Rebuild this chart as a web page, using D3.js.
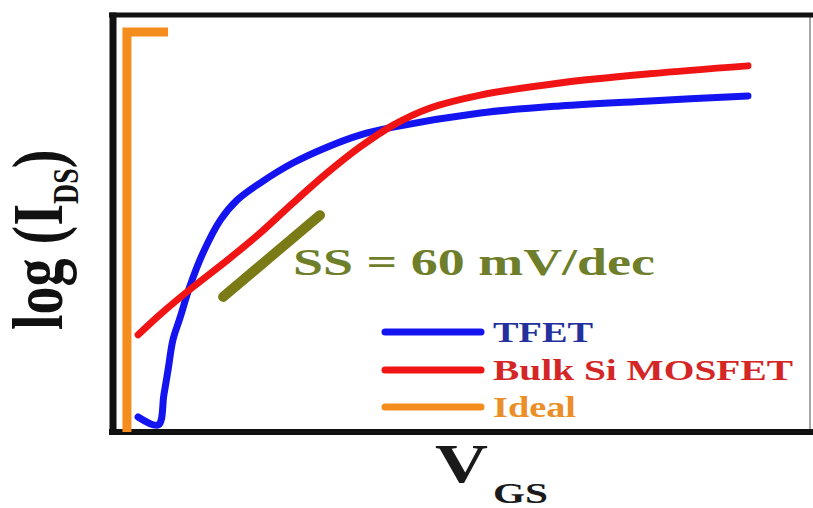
<!DOCTYPE html>
<html>
<head>
<meta charset="utf-8">
<script src="https://cdn.jsdelivr.net/npm/d3@7"></script>
<style>
  html, body { margin: 0; padding: 0; background: #ffffff; }
  svg { display: block; }
  text { font-family: "Liberation Serif", "Times New Roman", serif; font-weight: bold; }
</style>
</head>
<body>
<svg id="chart" width="813" height="508"></svg>
<script>
// Normalised gate voltage (0..1) and normalised log drain current (0..1)
const tfetV   = [0.036, 0.065, 0.073, 0.079, 0.086, 0.096, 0.110, 0.129, 0.154, 0.178, 0.211, 0.258, 0.307, 0.354, 0.402, 0.527, 0.641, 0.770, 0.911];
const tfetI   = [0.036, 0.017, 0.089, 0.149, 0.221, 0.273, 0.348, 0.429, 0.508, 0.556, 0.597, 0.645, 0.683, 0.712, 0.731, 0.765, 0.782, 0.794, 0.806];

const mosfetV = [0.036, 0.067, 0.115, 0.164, 0.211, 0.258, 0.307, 0.354, 0.402, 0.455, 0.527, 0.641, 0.770, 0.911];
const mosfetI = [0.233, 0.281, 0.348, 0.412, 0.477, 0.549, 0.621, 0.683, 0.736, 0.777, 0.808, 0.837, 0.859, 0.878];

// Ideal switch: vertical jump at near-zero V_GS, then a short flat cap
const idealV  = [0.020, 0.020, 0.079];
const idealI  = [0.000, 0.959, 0.959];

// 60 mV/dec reference slope segment
const slopeV  = [0.158, 0.297];
const slopeI  = [0.324, 0.520];
const slopeLabel = "SS = 60 mV/dec";

const legendLabels = ["TFET", "Bulk Si MOSFET", "Ideal"];
const lineColors   = ["#1414f0", "#f01414", "#f58c1e"];
const labelColors  = ["#24309c", "#d42626", "#ea8f28"];
const legendWidths = [100, 300, 83];

const svg = d3.select("#chart");
const frame = { left: 113, right: 810, top: 15, bottom: 432 };

const x = d3.scaleLinear().domain([0, 1]).range([frame.left, frame.right]);
const y = d3.scaleLinear().domain([0, 1]).range([frame.bottom, frame.top]);

const line = d3.line()
  .x(d => x(d[0]))
  .y(d => y(d[1]))
  .curve(d3.curveCatmullRom.alpha(0.5));
const straight = d3.line()
  .x(d => x(d[0]))
  .y(d => y(d[1]));

const zip = (a, b) => a.map((v, i) => [v, b[i]]);

// Plot frame: heavy left, top and bottom edges, thin right edge
svg.append("line")
  .attr("x1", frame.right).attr("x2", frame.right)
  .attr("y1", frame.top).attr("y2", frame.bottom)
  .attr("stroke", "#8a8a8a").attr("stroke-width", 1.5);
svg.append("line")
  .attr("x1", frame.left - 4).attr("x2", 813)
  .attr("y1", frame.top).attr("y2", frame.top)
  .attr("stroke", "#111").attr("stroke-width", 5);
svg.append("line")
  .attr("x1", frame.left - 4).attr("x2", 813)
  .attr("y1", frame.bottom).attr("y2", frame.bottom)
  .attr("stroke", "#111").attr("stroke-width", 6);

// Ideal curve (drawn under the left frame edge)
svg.append("path")
  .attr("d", straight(zip(idealV, idealI)))
  .attr("fill", "none")
  .attr("stroke", lineColors[2])
  .attr("stroke-width", 9)
  .attr("stroke-linejoin", "miter");

svg.append("line")
  .attr("x1", frame.left).attr("x2", frame.left)
  .attr("y1", frame.top - 2.5).attr("y2", frame.bottom + 3)
  .attr("stroke", "#111").attr("stroke-width", 7);

// Device curves
svg.append("path")
  .attr("d", line(zip(tfetV, tfetI)))
  .attr("fill", "none")
  .attr("stroke", lineColors[0])
  .attr("stroke-width", 7)
  .attr("stroke-linecap", "round")
  .attr("stroke-linejoin", "round");

svg.append("path")
  .attr("d", line(zip(mosfetV, mosfetI)))
  .attr("fill", "none")
  .attr("stroke", lineColors[1])
  .attr("stroke-width", 7)
  .attr("stroke-linecap", "round")
  .attr("stroke-linejoin", "round");

// Subthreshold slope reference
svg.append("path")
  .attr("d", straight(zip(slopeV, slopeI)))
  .attr("fill", "none")
  .attr("stroke", "#7a7a16")
  .attr("stroke-width", 10)
  .attr("stroke-linecap", "round");

svg.append("text")
  .attr("x", 293).attr("y", 275)
  .attr("font-size", 37)
  .attr("fill", "#6e7e2a")
  .attr("textLength", 362)
  .attr("lengthAdjust", "spacingAndGlyphs")
  .text(slopeLabel);

// Legend
const legendY = [332, 370, 407];
const legend = svg.append("g");
legendLabels.forEach((lab, i) => {
  legend.append("line")
    .attr("x1", 385).attr("x2", 481)
    .attr("y1", legendY[i]).attr("y2", legendY[i])
    .attr("stroke", lineColors[i])
    .attr("stroke-width", 7)
    .attr("stroke-linecap", "round");
  legend.append("text")
    .attr("x", 493).attr("y", legendY[i] + 10)
    .attr("font-size", 30)
    .attr("fill", labelColors[i])
    .attr("textLength", legendWidths[i])
    .attr("lengthAdjust", "spacingAndGlyphs")
    .text(lab);
});

// Axis titles
const xt = svg.append("text").attr("fill", "#1a1a1a");
xt.append("tspan")
  .attr("x", 435).attr("y", 482)
  .attr("font-size", 55)
  .attr("textLength", 53)
  .attr("lengthAdjust", "spacingAndGlyphs")
  .text("V");
xt.append("tspan")
  .attr("x", 493).attr("y", 503)
  .attr("font-size", 29)
  .attr("textLength", 55)
  .attr("lengthAdjust", "spacingAndGlyphs")
  .text("GS");

const yt = svg.append("text")
  .attr("transform", "translate(62,330) rotate(-90) scale(1,1.3)")
  .attr("fill", "#111")
  .attr("font-size", 56);
yt.append("tspan").text("log (I");
yt.append("tspan").attr("font-size", 28).attr("dy", 12).text("DS");
yt.append("tspan").attr("dy", -12).text(")");
</script>
</body>
</html>
